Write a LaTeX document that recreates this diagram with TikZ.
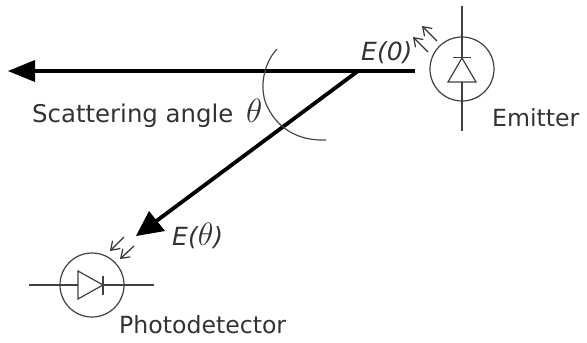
\documentclass[tikz,border=0pt]{standalone}
\usepackage{fontspec}
\setmainfont{DejaVu Sans}
\usetikzlibrary{arrows.meta}
\tikzset{
 x=1pt,y=-1pt,
 beam/.style={line width=3.8pt,black},
 sym/.style={line width=1.2pt,black!75},
 symbox/.style={circle,draw,line width=1.2pt,black!75,minimum size=64pt,inner sep=0pt},
 photon/.style={line width=1.2pt,black!80,-{Straight Barb[length=8pt,width=11pt,line width=1.2pt]}},
 lab/.style={inner sep=0pt,anchor=base west,text=black!80,font=\fontsize{23.6}{28}\selectfont},
 ital/.style={lab,font=\fontsize{25}{30}\selectfont\itshape}
}
\newcommand{\bigth}{\scalebox{1.35}{$\theta$}}
\begin{document}
\begin{tikzpicture}
\useasboundingbox (0,0) rectangle (587,343);
% beams
\coordinate (start) at (415,71);
\coordinate (scatter) at (358,71);
\coordinate (tipa) at (8,71);
\coordinate (basea) at (35,71);
\coordinate (tipb) at (136,236);
\coordinate (baseb) at (155,222);
\draw[beam] (start) -- (basea);
\fill[black] (tipa) -- (35,60) -- (35,82) -- cycle;
\draw[beam] (scatter) -- (baseb);
\fill[black] (tipb) -- (149,211) -- (165,231) -- cycle;
% angle arc
\draw[line width=1.2pt,black!72] (277,49) .. controls (262,65) and (259,92) .. (268,108) .. controls (279,130) and (300,141) .. (326,140);
% emitter
\node[symbox] (em) at (462,69) {};
\coordinate (emt) at (462,6);
\coordinate (emb) at (462,131);
\coordinate (ema) at (462,58);
\coordinate (emc) at (462,82);
\draw[sym] (emt) -- (ema) (emc) -- (emb);
\draw[sym,line join=miter] (ema) -- (476,82) -- (448,82) -- cycle;
\draw[sym] (453,57.5) -- (471,57.5);
\coordinate (e1s) at (437,41); \coordinate (e1e) at (422,26);
\coordinate (e2s) at (428,52); \coordinate (e2e) at (413,37);
\draw[photon] (e1s) -- (e1e);
\draw[photon] (e2s) -- (e2e);
% detector
\node[symbox] (det) at (92,285) {};
\coordinate (dl) at (29,285);
\coordinate (dr) at (154,285);
\coordinate (da) at (103,285);
\coordinate (db) at (78,285);
\draw[sym] (dl) -- (db) (da) -- (dr);
\draw[sym] (da) -- (78,271) -- (78,299) -- cycle;
\draw[sym] (103,276) -- (103,295);
\coordinate (d1s) at (124,237); \coordinate (d1e) at (110,251);
\coordinate (d2s) at (134,246); \coordinate (d2e) at (120,259);
\draw[photon] (d1s) -- (d1e);
\draw[photon] (d2s) -- (d2e);
% labels
\node[ital] (e0) at (361,60) {E(0)};
\node[ital] (et) at (172,245) {E(\scalebox{1.3}{$\theta$})};
\node[lab,font=\fontsize{24.4}{29}\selectfont] (sa) at (32,122) {Scattering angle\hspace{5pt} \bigth};
\node[lab] (emi) at (492,126) {Emitter};
\node[lab] (pd) at (119,333) {Photodetector};
\end{tikzpicture}
\end{document}
